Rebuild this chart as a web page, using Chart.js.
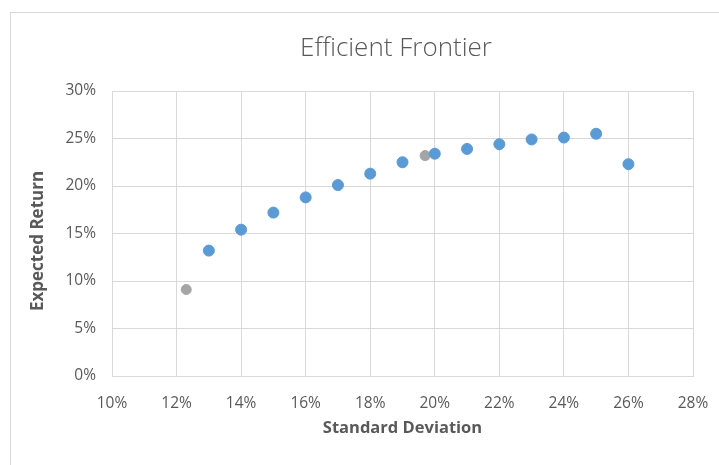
<!DOCTYPE html>
<html>
<head>
<meta charset="utf-8">
<script src="https://cdn.jsdelivr.net/npm/chart.js@4/dist/chart.umd.min.js"></script>
<style>
  html, body { margin: 0; padding: 0; background: #ffffff; }
  #wrap { width: 719px; height: 465px; position: relative; }
</style>
</head>
<body>
<div id="wrap"><canvas id="c" width="719" height="465"></canvas></div>
<script>
// Portfolio standard deviations (x) and expected returns (y), in percent
const frontierRisk   = [13, 14, 15, 16, 17, 18, 19, 20, 21, 22, 23, 24, 25, 26];
const frontierReturn = [13.2, 15.4, 17.2, 18.8, 20.1, 21.3, 22.5, 23.4, 23.9, 24.4, 24.9, 25.1, 25.5, 22.3];

// Highlighted portfolios: minimum variance and optimal
const markedRisk   = [12.3, 19.7];
const markedReturn = [9.1, 23.2];

const xTicks = [10, 12, 14, 16, 18, 20, 22, 24, 26, 28];
const yTicks = [0, 5, 10, 15, 20, 25, 30];

const toPoints = (xs, ys) => xs.map((x, i) => ({ x: x, y: ys[i] }));

const FONT = "'Open Sans', 'Liberation Sans', sans-serif";
const TEXT = '#595959';
const GRID = '#d9d9d9';

// Outer frame, chart title and the two axis titles
const decor = {
  id: 'decor',
  beforeDraw(chart) {
    const ctx = chart.ctx;
    ctx.save();
    ctx.fillStyle = '#ffffff';
    ctx.fillRect(0, 0, chart.width, chart.height);
    ctx.strokeStyle = '#d9d9d9';
    ctx.lineWidth = 1;
    ctx.strokeRect(10.5, 12.5, chart.width + 10, chart.height + 10);
    ctx.restore();
  },
  afterDraw(chart) {
    const ctx = chart.ctx;
    const a = chart.chartArea;
    ctx.save();
    ctx.fillStyle = TEXT;
    ctx.textAlign = 'center';
    ctx.textBaseline = 'middle';
    ctx.font = "300 26px " + FONT;
    ctx.fillText('Efficient Frontier', 396, 49);
    ctx.font = "bold 16.5px " + FONT;
    ctx.fillText('Standard Deviation', (a.left + a.right) / 2, 428);
    ctx.translate(38, 241);
    ctx.rotate(-Math.PI / 2);
    ctx.font = "bold 17px " + FONT;
    ctx.fillText('Expected Return', 0, 0);
    ctx.restore();
  }
};

new Chart(document.getElementById('c'), {
  type: 'scatter',
  data: {
    datasets: [
      {
        label: 'Efficient Frontier',
        data: toPoints(frontierRisk, frontierReturn),
        backgroundColor: '#5b9bd5',
        borderColor: '#5b9bd5',
        pointRadius: 5.5,
        pointHoverRadius: 5.5
      },
      {
        label: 'Selected Portfolios',
        data: toPoints(markedRisk, markedReturn),
        backgroundColor: '#a5a5a5',
        borderColor: '#a5a5a5',
        pointRadius: 5,
        pointHoverRadius: 5
      }
    ]
  },
  options: {
    responsive: false,
    animation: false,
    events: [],
    layout: { padding: { left: 0, right: 26, top: 91, bottom: 0 } },
    plugins: {
      legend: { display: false },
      tooltip: { enabled: false },
      title: { display: false }
    },
    scales: {
      x: {
        type: 'linear',
        min: 10,
        max: 28,
        afterBuildTicks(scale) { scale.ticks = xTicks.map(v => ({ value: v })); },
        afterFit(scale) {
          scale.height = 89;
          scale.paddingLeft = 0;
          scale.paddingRight = 0;
        },
        grid: { color: GRID, drawTicks: false },
        border: { color: GRID },
        ticks: {
          color: TEXT,
          padding: 18,
          font: { family: FONT, size: 15.5 },
          callback: v => v + '%'
        }
      },
      y: {
        type: 'linear',
        min: 0,
        max: 30,
        afterBuildTicks(scale) { scale.ticks = yTicks.map(v => ({ value: v })); },
        afterFit(scale) {
          scale.width = 112;
          scale.paddingTop = 0;
          scale.paddingBottom = 0;
        },
        grid: { color: GRID, drawTicks: false },
        border: { color: GRID },
        ticks: {
          color: TEXT,
          padding: 16,
          font: { family: FONT, size: 15.5 },
          callback: v => v + '%'
        }
      }
    }
  },
  plugins: [decor]
});
</script>
</body>
</html>
